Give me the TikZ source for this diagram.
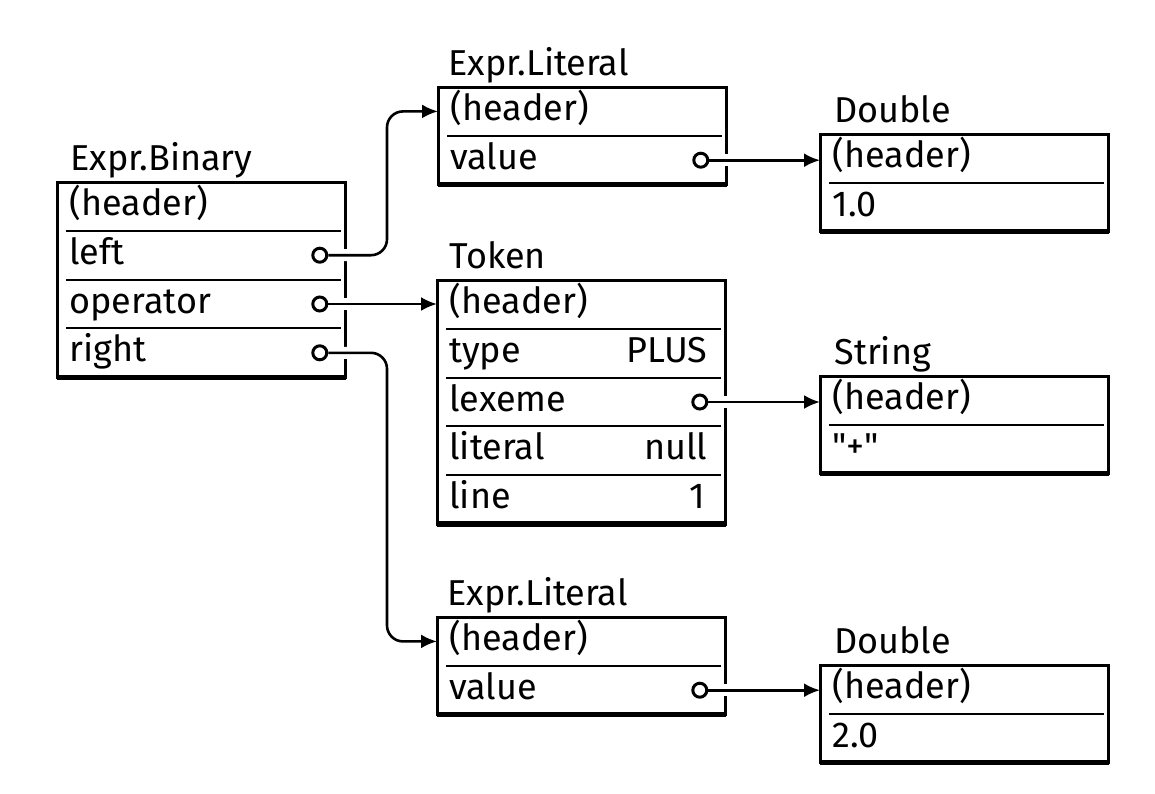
\documentclass[tikz,border=0pt]{standalone}
\usepackage{fontspec}
\setmainfont{Fira Sans}
\usetikzlibrary{positioning, arrows.meta}

\tikzset{
    field/.style={anchor=north west, minimum height=24pt, text width=132pt,
        inner xsep=6pt, inner ysep=0pt, text height=13pt, text depth=4pt, align=left},
    val/.style={anchor=east, inner sep=0pt, text height=13pt, text depth=4pt},
    title/.style={anchor=base west, inner sep=0pt},
    box/.style={line width=1.5pt},
    base/.style={line width=2.6pt},
    div/.style={line width=1pt},
    ptr/.style={circle, draw, line width=1.5pt, fill=white, minimum size=7pt, inner sep=0pt},
    link/.style={line width=1.3pt, -{Latex[length=8pt, width=7pt]},
        preaction={draw=white, line width=6pt, -, shorten <=1pt, shorten >=5pt}},
}

\begin{document}
\begin{tikzpicture}[x=0.5pt, y=-0.5pt, font=\fontsize{18}{20}\selectfont]
    \useasboundingbox (0, 0) rectangle (1155, 793);

    % Expr.Binary
    \node[field] (bin-hdr) at (57, 182) {(header)};
    \node[field, below=0pt of bin-hdr] (bin-left) {left};
    \node[field, below=0pt of bin-left] (bin-op) {operator};
    \node[field, below=0pt of bin-op] (bin-right) {right};
    \node[title] (bin-title) at ([shift={(6.5pt, 6pt)}]bin-hdr.north west) {Expr.Binary};
    \draw[box] (bin-hdr.north west) rectangle (bin-right.south east);
    \draw[base] (bin-right.south west) -- (bin-right.south east);
    \foreach \r in {bin-left, bin-op, bin-right}
        \draw[div] ([xshift=4.5pt]\r.north west) -- ([xshift=-2.5pt]\r.north east);
    \node[ptr] (bin-left-p) at ([xshift=-13pt]bin-left.east) {};
    \node[ptr] (bin-op-p) at ([xshift=-13pt]bin-op.east) {};
    \node[ptr] (bin-right-p) at ([xshift=-13pt]bin-right.east) {};

    % Expr.Literal (top)
    \node[field] (lit1-hdr) at (438, 87) {(header)};
    \node[field, below=0pt of lit1-hdr] (lit1-val) {value};
    \node[title] (lit1-title) at ([shift={(5pt, 6pt)}]lit1-hdr.north west) {Expr.Literal};
    \draw[box] (lit1-hdr.north west) rectangle (lit1-val.south east);
    \draw[base] (lit1-val.south west) -- (lit1-val.south east);
    \draw[div] ([xshift=4.5pt]lit1-val.north west) -- ([xshift=-2.5pt]lit1-val.north east);
    \node[ptr] (lit1-val-p) at ([xshift=-13pt]lit1-val.east) {};

    % Double 1.0
    \node[field] (dbl1-hdr) at (820, 134) {(header)};
    \node[field, below=0pt of dbl1-hdr] (dbl1-num) {1.0};
    \node[title] (dbl1-title) at ([shift={(7pt, 6pt)}]dbl1-hdr.north west) {Double};
    \draw[box] (dbl1-hdr.north west) rectangle (dbl1-num.south east);
    \draw[base] (dbl1-num.south west) -- (dbl1-num.south east);
    \draw[div] ([xshift=4.5pt]dbl1-num.north west) -- ([xshift=-2.5pt]dbl1-num.north east);

    % Token
    \node[field] (tok-hdr) at (437, 280) {(header)};
    \node[field, below=0pt of tok-hdr] (tok-type) {type};
    \node[field, below=0pt of tok-type] (tok-lex) {lexeme};
    \node[field, below=0pt of tok-lex] (tok-lit) {literal};
    \node[field, below=0pt of tok-lit] (tok-line) {line};
    \node[title] (tok-title) at ([shift={(6pt, 6pt)}]tok-hdr.north west) {Token};
    \draw[box] (tok-hdr.north west) rectangle (tok-line.south east);
    \draw[base] (tok-line.south west) -- (tok-line.south east);
    \foreach \r in {tok-type, tok-lex, tok-lit, tok-line}
        \draw[div] ([xshift=4.5pt]\r.north west) -- ([xshift=-2.5pt]\r.north east);
    \node[val] (tok-type-v) at ([xshift=-9pt]tok-type.east) {PLUS};
    \node[val] (tok-lit-v) at ([xshift=-9pt]tok-lit.east) {null};
    \node[val] (tok-line-v) at ([xshift=-10pt]tok-line.east) {1};
    \node[ptr] (tok-lex-p) at ([xshift=-13pt]tok-lex.east) {};

    % String
    \node[field] (str-hdr) at (820, 376) {(header)};
    \node[field, below=0pt of str-hdr] (str-txt) {\textquotedbl+\textquotedbl};
    \node[title] (str-title) at ([shift={(7pt, 6pt)}]str-hdr.north west) {String};
    \draw[box] (str-hdr.north west) rectangle (str-txt.south east);
    \draw[base] (str-txt.south west) -- (str-txt.south east);
    \draw[div] ([xshift=4.5pt]str-txt.north west) -- ([xshift=-2.5pt]str-txt.north east);

    % Expr.Literal (bottom)
    \node[field] (lit2-hdr) at (437, 617) {(header)};
    \node[field, below=0pt of lit2-hdr] (lit2-val) {value};
    \node[title] (lit2-title) at ([shift={(5pt, 6pt)}]lit2-hdr.north west) {Expr.Literal};
    \draw[box] (lit2-hdr.north west) rectangle (lit2-val.south east);
    \draw[base] (lit2-val.south west) -- (lit2-val.south east);
    \draw[div] ([xshift=4.5pt]lit2-val.north west) -- ([xshift=-2.5pt]lit2-val.north east);
    \node[ptr] (lit2-val-p) at ([xshift=-13pt]lit2-val.east) {};

    % Double 2.0
    \node[field] (dbl2-hdr) at (820, 665) {(header)};
    \node[field, below=0pt of dbl2-hdr] (dbl2-num) {2.0};
    \node[title] (dbl2-title) at ([shift={(7pt, 6pt)}]dbl2-hdr.north west) {Double};
    \draw[box] (dbl2-hdr.north west) rectangle (dbl2-num.south east);
    \draw[base] (dbl2-num.south west) -- (dbl2-num.south east);
    \draw[div] ([xshift=4.5pt]dbl2-num.north west) -- ([xshift=-2.5pt]dbl2-num.north east);

    % pointers
    \coordinate (bus) at (387, 0);
    \draw[link, rounded corners=8pt] (bin-left-p) -| (bus |- lit1-hdr.west) -- (lit1-hdr.west);
    \draw[link] (bin-op-p) -- (bin-op-p -| tok-hdr.west);
    \draw[link, rounded corners=8pt] (bin-right-p) -| (bus |- lit2-hdr.west) -- (lit2-hdr.west);
    \draw[link] (lit1-val-p) -- (lit1-val-p -| dbl1-hdr.west);
    \draw[link] (tok-lex-p) -- (tok-lex-p -| str-hdr.west);
    \draw[link] (lit2-val-p) -- (lit2-val-p -| dbl2-hdr.west);
\end{tikzpicture}
\end{document}
